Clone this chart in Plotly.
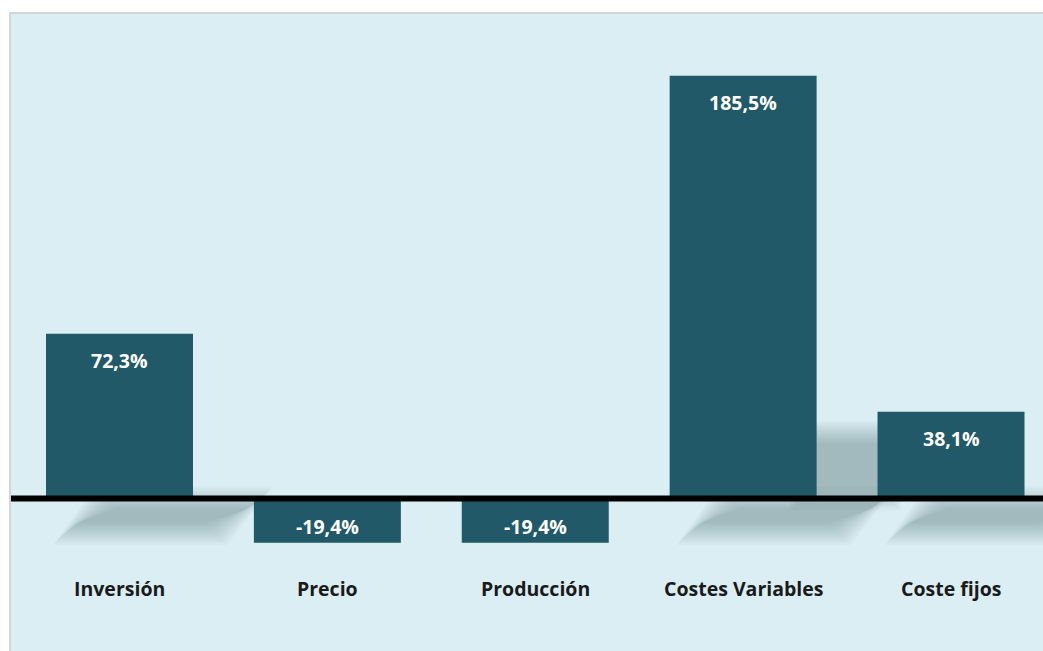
import plotly.graph_objects as go

# Sensitivity of the result to each variable (%)
categories = ["Inversión", "Precio", "Producción", "Costes Variables", "Coste fijos"]
values = [72.3, -19.4, -19.4, 185.5, 38.1]

BAR_COLOR = "#215968"
BG_COLOR = "#daeef3"
FONT = "Open Sans"

# pixel scale of the plot area (used to size the soft shadows)
PX_X = 207.9   # px per category
PX_Y = 2.279   # px per percentage point

labels = [f"{v:.1f}".replace(".", ",") + "%" for v in values]
xs = list(range(len(categories)))

fig = go.Figure(
    go.Bar(
        x=xs,
        y=values,
        width=0.707,
        marker=dict(color=BAR_COLOR, line=dict(width=0)),
        hoverinfo="skip",
    )
)


def soft_polygon(points, layers=12, step_px=2.0, start=-5, alpha=0.028):
    """Stack slightly grown copies of a polygon to fake a blurred shadow."""
    cx = sum(p[0] for p in points) / len(points)
    cy = sum(p[1] for p in points) / len(points)
    shapes = []
    for i in range(layers):
        ex = (start + i) * step_px / PX_X
        ey = (start + i) * step_px / PX_Y
        pts = []
        for px, py in points:
            sx = 1 if px >= cx else -1
            sy = 1 if py >= cy else -1
            pts.append((px + sx * ex, py + sy * ey))
        path = "M " + " L ".join(f"{a:.4f},{b:.4f}" for a, b in pts) + " Z"
        shapes.append(dict(
            type="path", path=path, xref="x", yref="y", layer="below",
            fillcolor="rgb(30,55,65)", opacity=alpha, line=dict(width=0),
        ))
    return shapes


shapes = []
for c, v in zip(xs, values):
    if v <= 0:
        continue
    # flattened shadow cast below the baseline
    shapes += soft_polygon([(c - 0.06, 0), (c + 0.68, 0), (c + 0.46, -15), (c - 0.26, -15)])
    # part of the shadow rising behind the bar
    h = 0.000834 * v * v
    if h > 10:
        shapes += soft_polygon([(c + 0.28, 0), (c + 0.70, 0), (c + 0.70, h), (c + 0.28, h)])

# baseline drawn over the bars
shapes.append(dict(type="line", xref="paper", yref="y", x0=0, x1=1, y0=0, y1=0,
                   line=dict(color="black", width=6), layer="above"))
# chart frame (left and top edges)
shapes.append(dict(type="path", xref="paper", yref="paper", path="M 0,0 L 0,1 L 1,1",
                   line=dict(color="#d4d4d4", width=2), layer="above"))

annotations = []
for c, v, t in zip(xs, values, labels):
    annotations.append(dict(
        x=c, y=v, xref="x", yref="y", text=f"<b>{t}</b>", showarrow=False,
        yshift=-27 if v > 0 else 16, yanchor="middle",
        font=dict(family=FONT, size=19.5, color="white"),
    ))
for c, name in zip(xs, categories):
    annotations.append(dict(
        x=c, y=-39.3, xref="x", yref="y", text=f"<b>{name}</b>", showarrow=False,
        yanchor="middle", font=dict(family=FONT, size=19.5, color="#1a1a1a"),
    ))

fig.update_layout(
    width=1043,
    height=651,
    margin=dict(l=10, r=0, t=13, b=0, pad=0),
    paper_bgcolor="white",
    plot_bgcolor=BG_COLOR,
    showlegend=False,
    xaxis=dict(range=[-0.5267, 4.4425], visible=False, fixedrange=True),
    yaxis=dict(range=[-66.9, 213.0], visible=False, zeroline=False, fixedrange=True),
    shapes=shapes,
    annotations=annotations,
)

fig.write_html("out.html")
